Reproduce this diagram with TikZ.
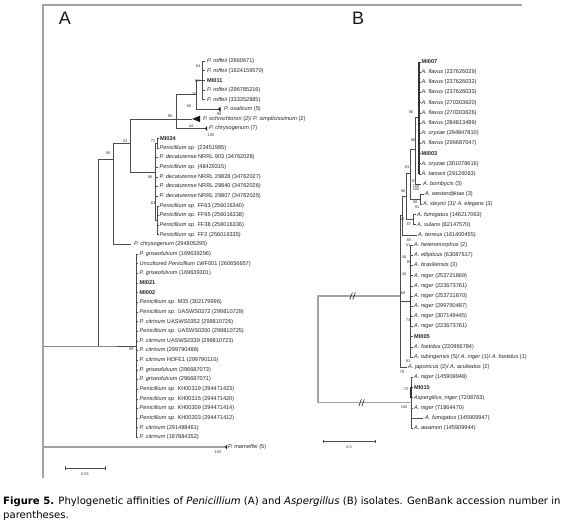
\documentclass[tikz,border=0pt]{standalone}
\usepackage{fontspec}
\setmainfont{Liberation Sans}
\newfontfamily\capfont{DejaVu Sans}
\definecolor{framec}{RGB}{168,163,158}
\begin{document}
\begin{tikzpicture}[x=1pt,y=-1pt,
  br/.style={draw=black!70,line width=0.45pt},
  thk/.style={draw=black!80,line width=1.3pt},
  rootl/.style={draw=framec,line width=1.1pt},
  framel/.style={draw=framec,line width=1.8pt},
  lf/.style={anchor=west,inner sep=0pt,font=\fontsize{5.6}{6}\selectfont,text=black!85},
  bsv/.style={inner sep=0pt,font=\fontsize{3.9}{4}\selectfont,text=black!80},
  letter/.style={inner sep=0pt,font=\fontsize{18}{18}\selectfont,text=black!90},
  capn/.style={anchor=west,inner sep=0pt,font=\capfont\fontsize{10.1}{12}\selectfont},
  brk/.style={draw=black!85,line width=0.6pt},
  tri/.style={fill=black!90}
]
\useasboundingbox[fill=white] (0,0) rectangle (567,527);

% frame
\coordinate (fTL) at (43,5); \coordinate (fTR) at (522,5); \coordinate (fBL) at (43,478);
\draw[framel] (fTR) -- (fTL) -- (fBL);
\node[letter] (lA) at (65,18) {A};
\node[letter] (lB) at (358,18) {B};

% ================= Panel A =================
\foreach \i/\tx/\lx/\t in {
0/205/207/{\textit{P. roffeii} (2660671)},
1/205/207/{\textit{P. roffeii} (1624159570)},
2/205/207/{\textbf{MI011}},
3/205/207/{\textit{P. roffeii} (296785216)},
4/205/207/{\textit{P. roffeii} (333352885)},
5/218/224/{\textit{P. oxalicum} (5)},
7/205/209/{\textit{P. chrysogenum} (7)},
8/158.5/160/{\textbf{MI024}},
9/158.5/159.5/{\textit{Penicillium sp.} (23451985)},
10/157.5/159.5/{\textit{P. decaturense} NRRL 903 (34762028)},
11/157.5/159.5/{\textit{Penicillium sp.} (48429315)},
12/157.5/159.5/{\textit{P. decaturense} NRRL 29828 (34762027)},
13/157.5/159.5/{\textit{P. decaturense} NRRL 29840 (34762026)},
14/157.5/159.5/{\textit{P. decaturense} NRRL 29807 (34762025)},
15/158.5/159.5/{\textit{Penicillium sp.} FF63 (256016340)},
16/158.5/159.5/{\textit{Penicillium sp.} FF65 (256016338)},
17/158.5/159.5/{\textit{Penicillium sp.} FF38 (256016336)},
18/158.5/159.5/{\textit{Penicillium sp.} FF2 (256016335)},
19/131/134/{\textit{P. chrysogenum} (294805295)},
20/138/139.5/{\textit{P. griseofulvum} (169639296)},
21/138/139.5/{Uncultured \textit{Penicillium} LWF001 (260656657)},
22/138/139.5/{\textit{P. griseofulvum} (169639301)},
23/138/139.5/{\textbf{MI021}},
24/138/139.5/{\textbf{MI002}},
25/138/139.5/{\textit{Penicillium sp.} M35 (302179996)},
26/138/139.5/{\textit{Penicillium sp.} UASWS0372 (299810729)},
27/138/139.5/{\textit{P. citrinum} UASWS0352 (299810726)},
28/138/139.5/{\textit{Penicillium sp.} UASWS0350 (299810725)},
29/138/139.5/{\textit{P. citrinum} UASWS0339 (299810723)},
30/138/139.5/{\textit{P. citrinum} (299790488)},
31/138/139.5/{\textit{P. citrinum} HDFE1 (299790110)},
32/138/139.5/{\textit{P. griseofulvum} (296687073)},
33/138/139.5/{\textit{P. griseofulvum} (296687071)},
34/138/139.5/{\textit{Penicillium sp.} KH00319 (294471423)},
35/138/139.5/{\textit{Penicillium sp.} KH00315 (294471420)},
36/138/139.5/{\textit{Penicillium sp.} KH00309 (294471414)},
37/138/139.5/{\textit{Penicillium sp.} KH00303 (294471412)},
38/138/139.5/{\textit{P. citrinum} (291498461)},
39/138/139.5/{\textit{P. citrinum} (187884352)},
40/225/228/{\textit{P. marneffei} (5)}}{
  \coordinate (a\i) at (\tx,{61+9.65*\i});
  \node[lf] (la\i) at (\lx,{61+9.65*\i}) {\t};
}
\coordinate (a6) at (192,{61+9.65*6});
\node[lf] (la6) at (203,{61+9.65*6}) {\textit{P. ochrochloron} (2)/ \textit{P. simplicissimum} (2)};

\coordinate (rootA) at (43,346);
\coordinate (ingA) at (98,346);
\coordinate (N56) at (113,159);
\coordinate (N43) at (130,143);
\coordinate (N90) at (176,118.9);
\coordinate (N80) at (196,94.6);
\coordinate (Nrof) at (202,80.3);
\coordinate (N96) at (155.5,172);
\coordinate (N72) at (157,143.0);
\coordinate (N63) at (157,220.2);
\coordinate (N99) at (136,346);

\draw[br] (rootA) -- (ingA) -- (N99);
\draw[br] (ingA) |- (N56);
\draw[br] (N56) |- (N43);
\draw[br] (N56) |- (a19);
\draw[br] (N43) |- (N90);
\draw[br] (N43) |- (N96);
\draw[br] (N90) |- (N80);
\draw[br] (N90) |- (a6);
\draw[br] (N90) |- (a7);
\draw[br] (N80) |- (Nrof);
\draw[br] (N80) |- (a5);
\foreach \i in {0,...,4} {\draw[br] (Nrof) |- (a\i);}
\draw[br] (N96) |- (N72);
\draw[br] (N96) |- (N63);
\foreach \i in {10,...,14} {\draw[br] (N96) |- (a\i);}
\foreach \i in {8,9} {\draw[br] (N72) |- (a\i);}
\foreach \i in {15,...,18} {\draw[br] (N63) |- (a\i);}
\foreach \i in {20,...,39} {\draw[br] (N99) |- (a\i);}
\draw[rootl] (rootA) |- (a40);

% collapsed clades
\fill[tri] (a6) -- ++(8,-3.2) -- ++(0,6.4) -- cycle;
\fill[tri] (a5) -- ++(2.5,-2.6) -- ++(0,5.2) -- cycle;
\fill[tri] (a7) -- ++(2,-2.4) -- ++(0,4.8) -- cycle;
\fill[tri] (a40) -- ++(2,-2.4) -- ++(0,4.8) -- cycle;

% bootstrap A
\node[bsv] (bA1) at (198,66) {64};
\node[bsv] (bA2) at (197,81) {87};
\node[bsv] (bA3) at (194,94) {25};
\node[bsv] (bA4) at (189,106) {80};
\node[bsv] (bA5) at (170,116) {90};
\node[bsv] (bA6) at (191,126) {44};
\node[bsv] (bA7) at (219,114) {99};
\node[bsv] (bA8) at (211,135) {100};
\node[bsv] (bA9) at (125,141) {43};
\node[bsv] (bA10) at (108,153) {56};
\node[bsv] (bA11) at (153,141) {72};
\node[bsv] (bA12) at (150,177) {96};
\node[bsv] (bA13) at (153,203) {63};
\node[bsv] (bA14) at (131,349) {99};
\node[bsv] (bA15) at (218,452) {100};

% scale A
\coordinate (sA1) at (65,468); \coordinate (sA2) at (105,468);
\draw[br] (sA1) -- (sA2);
\draw[br] (sA1) ++(0,-1.6) -- ++(0,3.2);
\draw[br] (sA2) ++(0,-1.6) -- ++(0,3.2);
\node[bsv] (sAl) at (85,474) {0.05};

% ================= Panel B =================
\foreach \j/\tx/\lx/\t in {
0/420.5/421.5/{\textbf{MI007}},
1/420.5/421.5/{\textit{A. flavus} (237626029)},
2/420.5/421.5/{\textit{A. flavus} (237626032)},
3/420.5/421.5/{\textit{A. flavus} (237626033)},
4/420.5/421.5/{\textit{A. flavus} (270303620)},
5/420.5/421.5/{\textit{A. flavus} (270303626)},
6/420.5/421.5/{\textit{A. flavus} (284813489)},
7/420.5/421.5/{\textit{A. oryzae} (294847810)},
8/420.5/421.5/{\textit{A. flavus} (296687047)},
9/420.5/421.5/{\textbf{MI003}},
10/420.5/421.5/{\textit{A. oryzae} (301078616)},
11/420.5/421.5/{\textit{A. tamarii} (29126063)},
12/421/423/{\textit{A. bombycis} (3)},
13/424/425/{\textit{A. westerdijkiae} (3)},
15/416/417/{\textit{A. fumigatus} (146217063)},
16/416/417/{\textit{A. sulans} (82147570)},
17/416.5/418/{\textit{A. terreus} (161400455)},
18/413/414/{\textit{A. heteromorphus} (2)},
19/413/414/{\textit{A. ellipticus} (63087617)},
20/413/414/{\textit{A. brasiliensis} (3)},
21/413/414/{\textit{A. niger} (253721869)},
22/413/414/{\textit{A. niger} (223673761)},
23/413/414/{\textit{A. niger} (253721870)},
24/413/414/{\textit{A. niger} (299790487)},
25/413/414/{\textit{A. niger} (307149445)},
26/413/414/{\textit{A. niger} (223673761)},
27/413/414/{\textbf{MI005}},
28/413/414/{\textit{A. foetidus} (220966784)},
31/413/414/{\textit{A. niger} (145909948)},
32/413/414/{\textbf{MI015}},
33/413/414/{\textit{Aspergillus\_niger} (7208763)},
34/413/414/{\textit{A. niger} (71864470)},
35/423/425/{\textit{A. fumigatus} (145909947)},
36/413/414/{\textit{A. awamori} (145909944)}}{
  \coordinate (b\j) at (\tx,{62+10.17*\j});
  \node[lf] (lb\j) at (\lx,{62+10.17*\j}) {\t};
}
\coordinate (b14) at (422,{62+10.17*14});
\node[lf] (lb14) at (423,{62+10.17*14}) {\textit{A. steynii} (3)/ \textit{A. elegans} (3)};
\coordinate (b29) at (413,{62+10.17*29});
\node[lf] (lb29) at (414,{62+10.17*29}) {\textit{A. tubingensis} (5)/ \textit{A. niger} (1)/ \textit{A. foetidus} (1)};
\coordinate (b30) at (406.5,{62+10.17*30});
\node[lf] (lb30) at (408,{62+10.17*30}) {\textit{A. japonicus} (2)/ \textit{A. aculeatus} (2)};

\coordinate (rootB) at (318,349.5);
\coordinate (NU) at (400,296);
\coordinate (NL) at (411,402.7);
\coordinate (NE) at (402,215);
\coordinate (ND) at (406,196);
\coordinate (NC) at (410,173.5);
\coordinate (NB) at (415,149.5);
\coordinate (NA) at (419,117);
\coordinate (NW) at (420,199.3);
\coordinate (NFS) at (413,219.6);
\coordinate (NN) at (410,301);

\draw[rootl] (rootB) |- (NU);
\draw[rootl] (rootB) |- (NL);
\draw[br] (NU) |- (NE);
\draw[br] (NU) |- (NN);
\draw[br] (NU) |- (b30);
\draw[br] (NE) |- (ND);
\draw[br] (NE) |- (b17);
\draw[br] (ND) |- (NC);
\draw[br] (ND) |- (NFS);
\draw[br] (NC) |- (NB);
\draw[br] (NC) |- (NW);
\draw[br] (NB) |- (NA);
\draw[br] (NB) |- (b12);
\foreach \j in {0,...,11} {\draw[br] (NA) |- (b\j);}
\draw[br] (NW) |- (b13);
\draw[br] (NW) |- (b14);
\draw[br] (NFS) |- (b15);
\draw[br] (NFS) |- (b16);
\foreach \j in {18,...,29} {\draw[br] (NN) |- (b\j);}
\foreach \j in {31,...,36} {\draw[br] (NL) |- (b\j);}

% thick parts
\draw[thk] (b0 -| NA) -- (b11 -| NA);
\draw[thk] ([xshift=0.5pt]b23 -| NN) -- ([xshift=0.5pt]b26 -| NN);
\draw[thk] (b32 -| NL) -- (b33 -| NL);

% breaks
\coordinate (brk1) at (353,296);
\coordinate (brk2) at (362,402.7);
\foreach \c in {brk1,brk2}{
  \draw[brk] (\c) ++(-3.2,3.6) -- ++(2.6,-7.2);
  \draw[brk] (\c) ++(-0.2,3.6) -- ++(2.6,-7.2);
}

% bootstrap B
\node[bsv] (bB1) at (411,112) {90};
\node[bsv] (bB2) at (413,140) {96};
\node[bsv] (bB3) at (407,167) {83};
\node[bsv] (bB4) at (414,181) {87};
\node[bsv] (bB5) at (416,186) {100};
\node[bsv] (bB6) at (416,189.5) {100};
\node[bsv] (bB7) at (403,191) {98};
\node[bsv] (bB8) at (415,202) {99};
\node[bsv] (bB9) at (417,207) {91};
\node[bsv] (bB10) at (402,219) {61};
\node[bsv] (bB11) at (409,224) {87};
\node[bsv] (bB12) at (409,240.5) {80};
\node[bsv] (bB13) at (408,245) {41};
\node[bsv] (bB14) at (404,257) {46};
\node[bsv] (bB15) at (409,262) {89};
\node[bsv] (bB16) at (404,274) {40};
\node[bsv] (bB17) at (403,293) {68};
\node[bsv] (bB18) at (408,320) {74};
\node[bsv] (bB19) at (408,361) {81};
\node[bsv] (bB20) at (402,372) {79};
\node[bsv] (bB21) at (406,389) {72};
\node[bsv] (bB22) at (404,407) {100};

% scale B
\coordinate (sB1) at (323,441.5); \coordinate (sB2) at (375,441.5);
\draw[br] (sB1) -- (sB2);
\draw[br] (sB1) ++(0,-1.6) -- ++(0,3.2);
\draw[br] (sB2) ++(0,-1.6) -- ++(0,3.2);
\node[bsv] (sBl) at (349,447.5) {0.5};

% caption
\node[capn] (cap1) at (3,502) {\textbf{Figure 5.} Phylogenetic affinities of \textit{Penicillium} (A) and \textit{Aspergillus} (B) isolates. GenBank accession number in};
\node[capn] (cap2) at (3,516) {parentheses.};
\end{tikzpicture}
\end{document}
